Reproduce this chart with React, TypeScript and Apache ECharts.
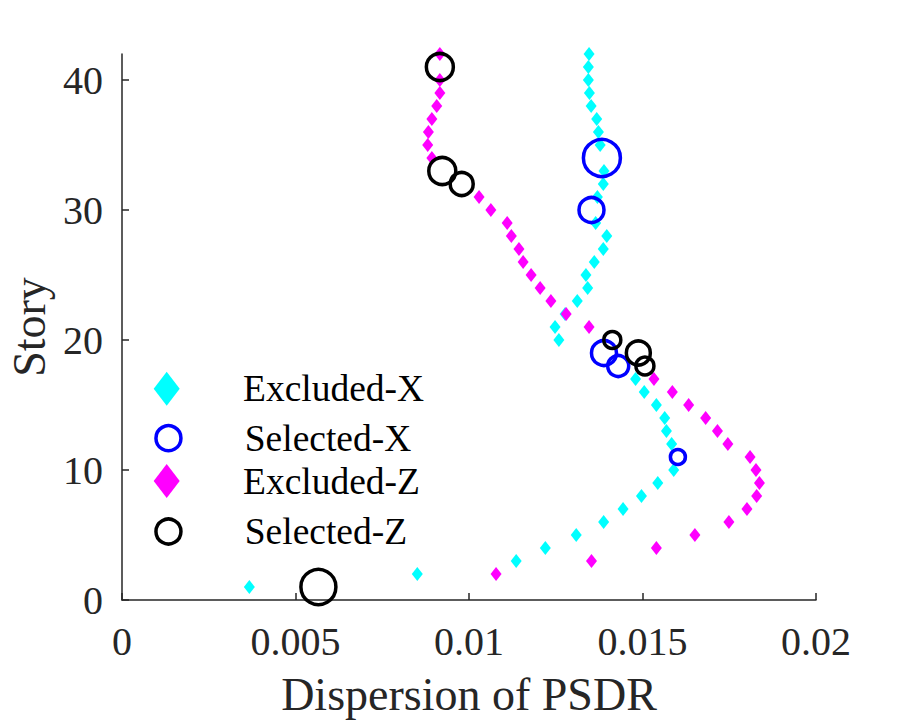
import React, { useEffect, useRef } from "react";
import * as echarts from "echarts";

const stories = [
  1, 2, 3, 4, 5, 6, 7, 8, 9, 10, 11, 12, 13, 14, 15, 16, 17, 18, 19, 20, 21,
  22, 23, 24, 25, 26, 27, 28, 29, 30, 31, 32, 33, 34, 35, 36, 37, 38, 39, 40,
  41, 42,
];

// Dispersion of PSDR, X direction (story 1..42)
const dispersionX = [
  0.00367, 0.00851, 0.01136, 0.0122, 0.01309, 0.01388, 0.01444, 0.01497,
  0.01544, 0.0159, 0.01602, 0.01584, 0.01569, 0.01564, 0.0154, 0.01505,
  0.0148, 0.0143, 0.01389, 0.01259, 0.01248, 0.01277, 0.01312, 0.01342,
  0.01337, 0.01361, 0.01387, 0.01397, 0.01365, 0.01353, 0.0137, 0.01387,
  0.01389, 0.01383, 0.01378, 0.01373, 0.01368, 0.01352, 0.01347, 0.01344,
  0.01344, 0.01346,
];

// Dispersion of PSDR, Z direction (story 1..42)
const dispersionZ = [
  0.00566, 0.01078, 0.01353, 0.0154, 0.01651, 0.01749, 0.01801, 0.01829,
  0.01837, 0.01827, 0.0181, 0.01746, 0.01716, 0.01682, 0.01633, 0.01586,
  0.01533, 0.01507, 0.01488, 0.01413, 0.01346, 0.0128, 0.01236, 0.01205,
  0.01179, 0.01156, 0.01144, 0.01122, 0.0111, 0.01063, 0.01029, 0.00979,
  0.00923, 0.00893, 0.00881, 0.00883, 0.00893, 0.00907, 0.00916, 0.00916,
  0.00916, 0.00916,
];

const selectedXStories = [11, 18, 19, 30, 34];
const selectedXWeight = [1.5, 2.1, 2.5, 2.5, 3.7];
const selectedZStories = [1, 18, 19, 20, 32, 33, 41];
const selectedZWeight = [3.5, 1.8, 2.4, 1.7, 2.3, 2.7, 2.7];

const xTicks = [0, 0.005, 0.01, 0.015, 0.02];
const yTicks = [0, 10, 20, 30, 40];

const seriesNames = ["Excluded-X", "Selected-X", "Excluded-Z", "Selected-Z"];

const FONT = '"Liberation Serif", "Times New Roman", serif';
const AXIS_COLOR = "#262626";

function excluded(values: number[], selected: number[]) {
  return stories
    .filter((s) => selected.indexOf(s) < 0)
    .map((s) => [values[s - 1], s]);
}

function selectedData(values: number[], selected: number[], weight: number[]) {
  return selected.map((s, i) => [values[s - 1], s, weight[i]]);
}

export default function App() {
  const ref = useRef<HTMLDivElement>(null);

  useEffect(() => {
    if (!ref.current) return;
    const chart = echarts.init(ref.current, undefined, { renderer: "svg" });

    const legendRow = (
      name: string,
      centerY: number,
      w: number,
      h: number,
      keep: boolean,
      ring: boolean
    ) => ({
      data: [name],
      orient: "vertical",
      left: 166.7 - w / 2,
      top: centerY - h / 2,
      padding: 0,
      itemWidth: w,
      itemHeight: h,
      symbolKeepAspect: keep,
      selectedMode: false,
      itemStyle: ring ? { borderWidth: 3.5, opacity: 1 } : { opacity: 1 },
      textStyle: {
        fontFamily: FONT,
        fontSize: 37.5,
        color: "#000000",
        padding: [0, 0, 0, 76.3 - w / 2 - 5],
      },
    });

    const option: any = {
      animation: false,
      backgroundColor: "#ffffff",
      textStyle: { fontFamily: FONT },
      grid: {
        left: 122,
        right: 84,
        top: 54,
        bottom: 120,
        containLabel: false,
        outerBoundsMode: "none",
      },
      legend: [
        legendRow(seriesNames[0], 386.7, 26, 34, false, false),
        legendRow(seriesNames[1], 431.7, 25, 25, true, true),
        legendRow(seriesNames[2], 479, 26, 34, false, false),
        legendRow(seriesNames[3], 525, 25, 25, true, true),
      ],
      xAxis: {
        type: "value",
        min: 0,
        max: 0.02,
        interval: 0.005,
        name: "Dispersion of PSDR",
        nameLocation: "middle",
        nameGap: 71,
        nameTextStyle: { fontFamily: FONT, fontSize: 46, color: AXIS_COLOR },
        axisLine: { show: true, lineStyle: { color: AXIS_COLOR, width: 1.5 } },
        axisTick: {
          show: true,
          inside: true,
          length: 7,
          customValues: xTicks,
          lineStyle: { color: AXIS_COLOR, width: 1.5 },
        },
        axisLabel: {
          customValues: xTicks,
          margin: 21,
          fontFamily: FONT,
          fontSize: 40,
          color: AXIS_COLOR,
          formatter: (v: number) => String(+(+v).toFixed(4)),
        },
        splitLine: { show: false },
      },
      yAxis: {
        type: "value",
        min: 0,
        max: 42,
        interval: 10,
        name: "Story",
        nameLocation: "middle",
        nameRotate: 90,
        nameGap: 68,
        nameTextStyle: { fontFamily: FONT, fontSize: 46, color: AXIS_COLOR },
        axisLine: { show: true, lineStyle: { color: AXIS_COLOR, width: 1.5 } },
        axisTick: {
          show: true,
          inside: true,
          length: 7,
          customValues: yTicks,
          lineStyle: { color: AXIS_COLOR, width: 1.5 },
        },
        axisLabel: {
          customValues: yTicks,
          margin: 19,
          fontFamily: FONT,
          fontSize: 40,
          color: AXIS_COLOR,
        },
        splitLine: { show: false },
      },
      series: [
        {
          name: seriesNames[0],
          type: "scatter",
          symbol: "diamond",
          symbolSize: [11, 14],
          itemStyle: { color: "#00FFFF", opacity: 1 },
          data: excluded(dispersionX, selectedXStories),
        },
        {
          name: seriesNames[1],
          type: "scatter",
          symbol: "circle",
          symbolSize: (v: number[]) => v[2] * 10,
          itemStyle: {
            color: "rgba(0,0,0,0)",
            borderColor: "#0000FF",
            borderWidth: 3.5,
            opacity: 1,
          },
          data: selectedData(dispersionX, selectedXStories, selectedXWeight),
        },
        {
          name: seriesNames[2],
          type: "scatter",
          symbol: "diamond",
          symbolSize: [11, 14],
          itemStyle: { color: "#FF00FF", opacity: 1 },
          data: excluded(dispersionZ, selectedZStories),
        },
        {
          name: seriesNames[3],
          type: "scatter",
          symbol: "circle",
          symbolSize: (v: number[]) => v[2] * 10,
          itemStyle: {
            color: "rgba(0,0,0,0)",
            borderColor: "#000000",
            borderWidth: 3.5,
            opacity: 1,
          },
          data: selectedData(dispersionZ, selectedZStories, selectedZWeight),
        },
      ],
    };

    chart.setOption(option);
    return () => chart.dispose();
  }, []);

  return (
    <div
      ref={ref}
      style={{
        position: "fixed",
        left: 0,
        top: 0,
        width: 900,
        height: 720,
        background: "#ffffff",
      }}
    />
  );
}
